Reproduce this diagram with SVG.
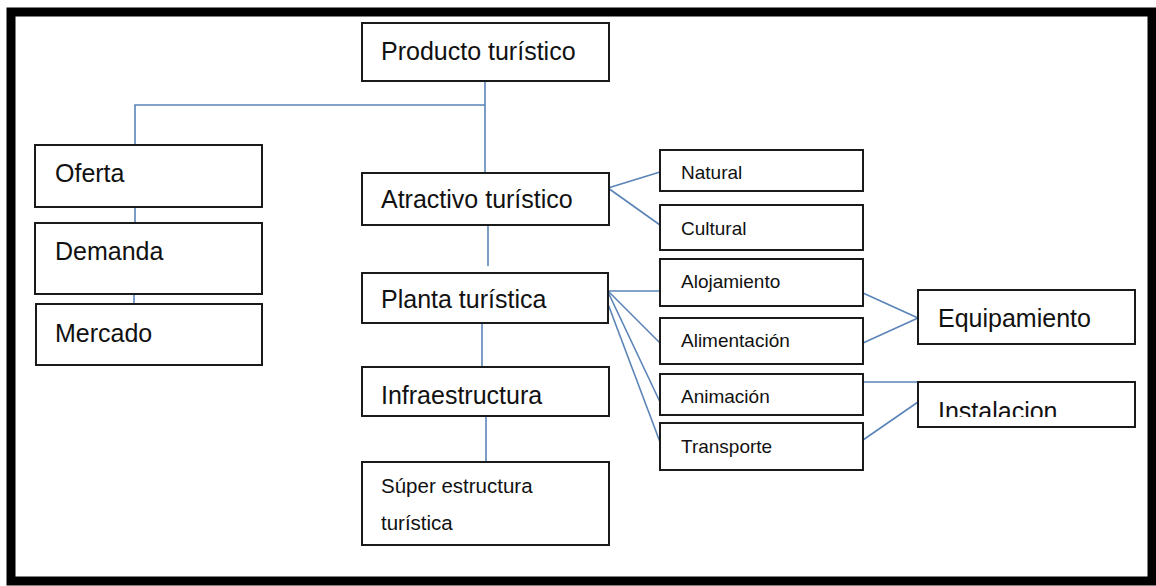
<svg xmlns="http://www.w3.org/2000/svg" width="1156" height="586" viewBox="0 0 1156 586">
<style>
.box{fill:#fff;stroke:#1a1a1a;stroke-width:2}
.ln{stroke:#5a84b8;stroke-width:1.6;fill:none}
.big{font-family:"Liberation Sans",Arial,sans-serif;font-size:25px;fill:#111}
.mid{font-family:"Liberation Sans",Arial,sans-serif;font-size:20.5px;fill:#111}
.sm{font-family:"Liberation Sans",Arial,sans-serif;font-size:19px;fill:#111}
</style>
<defs>
<clipPath id="clipInst"><rect x="918" y="382" width="217" height="35"/></clipPath>
</defs>
<rect x="0" y="0" width="1156" height="586" fill="#fff"/>
<rect x="11" y="12" width="1141" height="569" fill="#fff" stroke="#000" stroke-width="9"/>
<g id="connectors">
<polyline class="ln" points="485,81 485,173"/>
<polyline class="ln" points="135,145 135,105 485,105"/>
<line class="ln" x1="135" y1="207" x2="135" y2="223"/>
<line class="ln" x1="134" y1="294" x2="134" y2="304"/>
<line class="ln" x1="488" y1="225" x2="488" y2="266"/>
<line class="ln" x1="482" y1="323" x2="482" y2="369"/>
<line class="ln" x1="486" y1="414" x2="486" y2="462"/>
<line class="ln" x1="608" y1="188" x2="660" y2="172"/>
<line class="ln" x1="608" y1="188" x2="660" y2="225"/>
<line class="ln" x1="608" y1="291" x2="660" y2="291"/>
<line class="ln" x1="608" y1="291" x2="660" y2="343"/>
<line class="ln" x1="608" y1="292" x2="660" y2="402"/>
<line class="ln" x1="608" y1="304" x2="660" y2="442"/>
<line class="ln" x1="863" y1="293" x2="918" y2="318"/>
<line class="ln" x1="863" y1="343" x2="918" y2="318"/>
<line class="ln" x1="863" y1="382" x2="918" y2="382"/>
<line class="ln" x1="863" y1="440" x2="918" y2="402"/>
</g>
<g id="producto"><rect class="box" x="362" y="23" width="247" height="58"/><text class="big" x="381" y="60">Producto turístico</text></g>
<g id="oferta"><rect class="box" x="35" y="145" width="227" height="62"/><text class="big" x="55" y="182">Oferta</text></g>
<g id="demanda"><rect class="box" x="35" y="223" width="227" height="71"/><text class="big" x="55" y="260">Demanda</text></g>
<g id="mercado"><rect class="box" x="36" y="304" width="226" height="61"/><text class="big" x="55" y="342">Mercado</text></g>
<g id="atractivo"><rect class="box" x="362" y="173" width="247" height="52"/><text class="big" x="381" y="208">Atractivo turístico</text></g>
<g id="planta"><rect class="box" x="362" y="273" width="246" height="50"/><text class="big" x="381" y="308">Planta turística</text></g>
<g id="infraestructura"><rect class="box" x="362" y="367" width="247" height="49"/><text class="big" x="381" y="404">Infraestructura</text></g>
<g id="superestructura"><rect class="box" x="362" y="462" width="247" height="83"/><text class="mid" x="381" y="493">Súper estructura</text><text class="mid" x="381" y="530">turística</text></g>
<g id="natural"><rect class="box" x="660" y="150" width="203" height="41"/><text class="sm" x="681" y="179">Natural</text></g>
<g id="cultural"><rect class="box" x="660" y="205" width="203" height="45"/><text class="sm" x="681" y="235">Cultural</text></g>
<g id="alojamiento"><rect class="box" x="660" y="259" width="203" height="47"/><text class="sm" x="681" y="288">Alojamiento</text></g>
<g id="alimentacion"><rect class="box" x="660" y="318" width="203" height="46"/><text class="sm" x="681" y="347">Alimentación</text></g>
<g id="animacion"><rect class="box" x="660" y="374" width="203" height="41"/><text class="sm" x="681" y="403">Animación</text></g>
<g id="transporte"><rect class="box" x="660" y="423" width="203" height="47"/><text class="sm" x="681" y="453">Transporte</text></g>
<g id="equipamiento"><rect class="box" x="918" y="290" width="217" height="54"/><text class="big" x="938" y="327">Equipamiento</text></g>
<g id="instalacion"><rect class="box" x="918" y="382" width="217" height="45"/><text class="big" x="938" y="420" clip-path="url(#clipInst)">Instalacion</text></g>
</svg>
